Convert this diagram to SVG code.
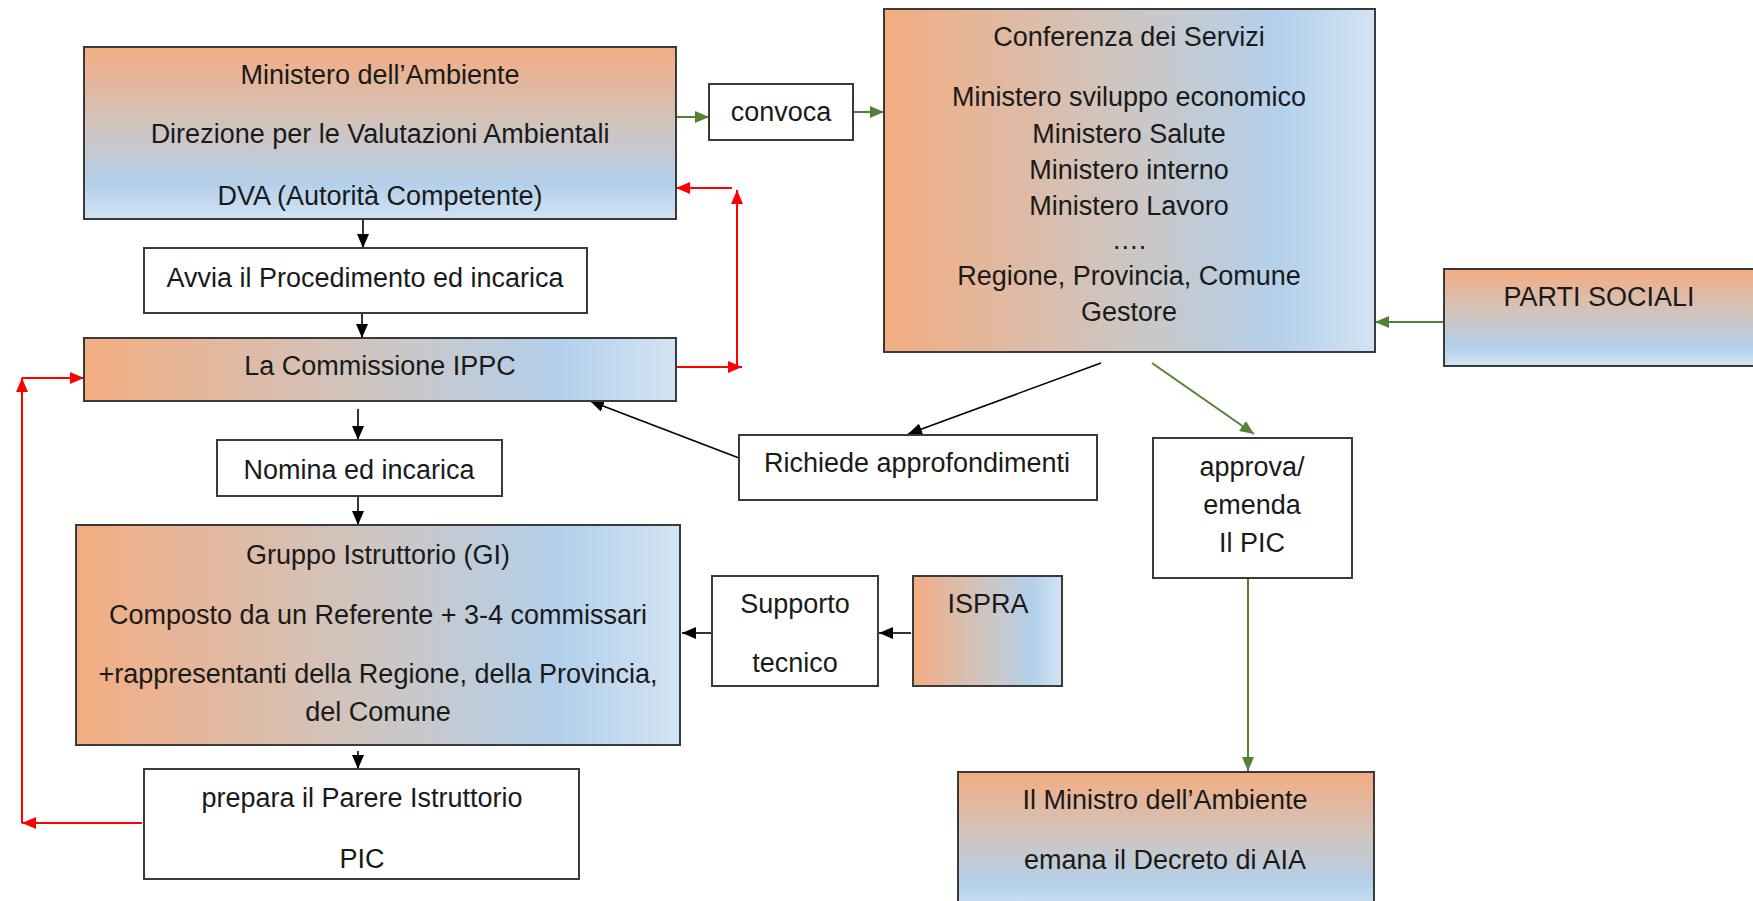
<svg xmlns="http://www.w3.org/2000/svg" width="1753" height="901" viewBox="0 0 1753 901">
<style>
  .box { stroke: #3a3a3a; stroke-width: 2; }
  .plain { fill: #ffffff; }
  .gh { fill: url(#gradH); }
  .gv { fill: url(#gradV); }
  text { font-family: "Liberation Sans", Arial, sans-serif; font-size: 27px; fill: #1a1a1a; text-anchor: middle; }
  .blk { stroke: #000; stroke-width: 1.6; fill: none; }
  .red { stroke: #ff0000; stroke-width: 2; fill: none; }
  .grn { stroke: #548235; stroke-width: 2; fill: none; }
</style>
<defs>
  <linearGradient id="gradH" x1="0" y1="0" x2="1" y2="0">
    <stop offset="0" stop-color="#F2AE80"/>
    <stop offset="0.07" stop-color="#EEB08A"/>
    <stop offset="0.5" stop-color="#CDC6C3"/>
    <stop offset="0.8" stop-color="#B3D0EB"/>
    <stop offset="1" stop-color="#D3E3F3"/>
  </linearGradient>
  <linearGradient id="gradV" x1="0" y1="0" x2="0" y2="1">
    <stop offset="0" stop-color="#F2AE80"/>
    <stop offset="0.07" stop-color="#EEB08A"/>
    <stop offset="0.5" stop-color="#CDC6C3"/>
    <stop offset="0.8" stop-color="#B3D0EB"/>
    <stop offset="1" stop-color="#D3E3F3"/>
  </linearGradient>
  <marker id="mb" viewBox="0 0 14 12" refX="14" refY="6" markerWidth="14" markerHeight="12" markerUnits="userSpaceOnUse" orient="auto">
    <path d="M0,0 L14,6 L0,12 z" fill="#000"/>
  </marker>
  <marker id="mr" viewBox="0 0 14 12" refX="14" refY="6" markerWidth="14" markerHeight="12" markerUnits="userSpaceOnUse" orient="auto">
    <path d="M0,0 L14,6 L0,12 z" fill="#ff0000"/>
  </marker>
  <marker id="mg" viewBox="0 0 14 12" refX="14" refY="6" markerWidth="14" markerHeight="12" markerUnits="userSpaceOnUse" orient="auto">
    <path d="M0,0 L14,6 L0,12 z" fill="#548235"/>
  </marker>
</defs>
<rect x="0" y="0" width="1753" height="901" fill="#ffffff"/>

<g id="connectors">
  <path class="grn" d="M676,117 L709,117" marker-end="url(#mg)"/>
  <path class="grn" d="M853,112 L884,112" marker-end="url(#mg)"/>
  <path class="grn" d="M1444,322 L1375,322" marker-end="url(#mg)"/>
  <path class="grn" d="M1152,363 L1254,434" marker-end="url(#mg)"/>
  <path class="grn" d="M1248,578 L1248,771" marker-end="url(#mg)"/>
  <path class="blk" d="M363,219 L363,248" marker-end="url(#mb)"/>
  <path class="blk" d="M362,313 L362,338" marker-end="url(#mb)"/>
  <path class="blk" d="M358,409 L358,440" marker-end="url(#mb)"/>
  <path class="blk" d="M358,496 L358,525" marker-end="url(#mb)"/>
  <path class="blk" d="M358,751 L358,769" marker-end="url(#mb)"/>
  <path class="blk" d="M1101,363 L908,434" marker-end="url(#mb)"/>
  <path class="blk" d="M739,458 L590,401" marker-end="url(#mb)"/>
  <path class="blk" d="M911,633 L879,633" marker-end="url(#mb)"/>
  <path class="blk" d="M712,633 L682,633" marker-end="url(#mb)"/>
  <path class="red" d="M676,367 L742,367" marker-end="url(#mr)"/>
  <path class="red" d="M737,367 L737,190" marker-end="url(#mr)"/>
  <path class="red" d="M732,188 L676,188" marker-end="url(#mr)"/>
  <path class="red" d="M142,823 L22,823" marker-end="url(#mr)"/>
  <path class="red" d="M22,823 L22,378" marker-end="url(#mr)"/>
  <path class="red" d="M22,378 L84,378" marker-end="url(#mr)"/>
</g>

<g id="ministero">
  <rect class="box gv" x="84" y="47" width="592" height="172"/>
  <text x="380" y="84">Ministero dell’Ambiente</text>
  <text x="380" y="143">Direzione per le Valutazioni Ambientali</text>
  <text x="380" y="205">DVA (Autorità Competente)</text>
</g>

<g id="convoca">
  <rect class="box plain" x="709" y="84" width="144" height="56"/>
  <text x="781" y="121">convoca</text>
</g>

<g id="conferenza">
  <rect class="box gh" x="884" y="9" width="491" height="343"/>
  <text x="1129" y="46">Conferenza dei Servizi</text>
  <text x="1129" y="106">Ministero sviluppo economico</text>
  <text x="1129" y="143">Ministero Salute</text>
  <text x="1129" y="179">Ministero interno</text>
  <text x="1129" y="215">Ministero Lavoro</text>
  <text x="1129" y="249">….</text>
  <text x="1129" y="285">Regione, Provincia, Comune</text>
  <text x="1129" y="321">Gestore</text>
</g>

<g id="parti-sociali">
  <rect class="box gv" x="1444" y="269" width="320" height="97"/>
  <text x="1599" y="306">PARTI SOCIALI</text>
</g>

<g id="avvia">
  <rect class="box plain" x="144" y="248" width="443" height="65"/>
  <text x="365" y="287">Avvia il Procedimento ed incarica</text>
</g>

<g id="commissione">
  <rect class="box gh" x="84" y="338" width="592" height="63"/>
  <text x="380" y="375">La Commissione IPPC</text>
</g>

<g id="nomina">
  <rect class="box plain" x="217" y="440" width="285" height="56"/>
  <text x="359" y="479">Nomina ed incarica</text>
</g>

<g id="gruppo">
  <rect class="box gh" x="76" y="525" width="604" height="220"/>
  <text x="378" y="564">Gruppo Istruttorio (GI)</text>
  <text x="378" y="624">Composto da un Referente + 3-4 commissari</text>
  <text x="378" y="683">+rappresentanti della Regione, della Provincia,</text>
  <text x="378" y="721">del Comune</text>
</g>

<g id="prepara">
  <rect class="box plain" x="144" y="769" width="435" height="110"/>
  <text x="362" y="807">prepara il Parere Istruttorio</text>
  <text x="362" y="868">PIC</text>
</g>

<g id="richiede">
  <rect class="box plain" x="739" y="435" width="358" height="65"/>
  <text x="917" y="472">Richiede approfondimenti</text>
</g>

<g id="approva">
  <rect class="box plain" x="1153" y="438" width="199" height="140"/>
  <text x="1252" y="476">approva/</text>
  <text x="1252" y="514">emenda</text>
  <text x="1252" y="552">Il PIC</text>
</g>

<g id="supporto">
  <rect class="box plain" x="712" y="576" width="166" height="110"/>
  <text x="795" y="613">Supporto</text>
  <text x="795" y="672">tecnico</text>
</g>

<g id="ispra">
  <rect class="box gh" x="913" y="576" width="149" height="110"/>
  <text x="988" y="613">ISPRA</text>
</g>

<g id="ministro">
  <rect class="box gv" x="958" y="772" width="416" height="140"/>
  <text x="1165" y="809">Il Ministro dell’Ambiente</text>
  <text x="1165" y="869">emana il Decreto di AIA</text>
</g>
</svg>
